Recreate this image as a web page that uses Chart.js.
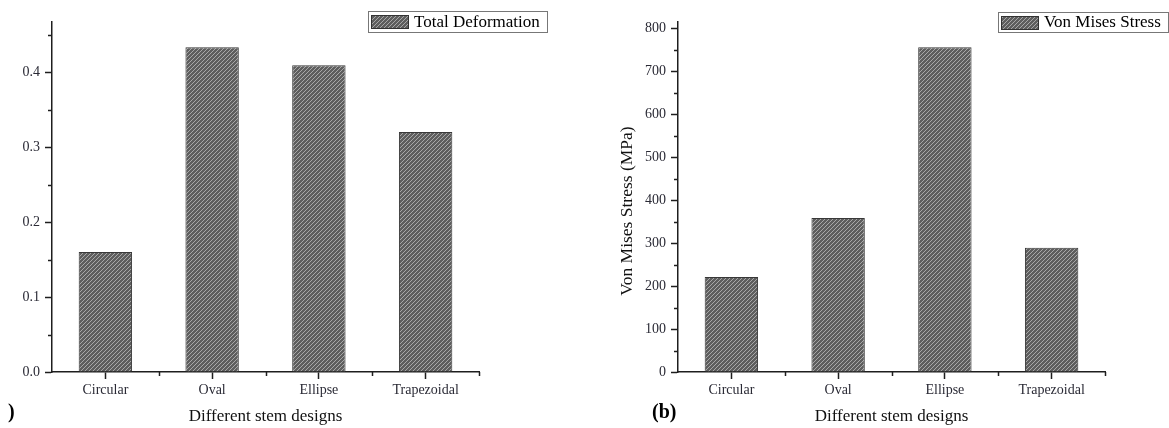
<!DOCTYPE html>
<html><head><meta charset="utf-8">
<script src="https://cdn.jsdelivr.net/npm/chart.js@4"></script>
<style>
html,body{margin:0;padding:0;background:#fff;width:1169px;height:428px;overflow:hidden}
.box{position:absolute;top:0;height:428px}
#wa{left:0;width:584px}
#wb{left:584px;width:585px}
</style></head><body>
<div class="box" id="wa"><canvas id="ca"></canvas></div>
<div class="box" id="wb"><canvas id="cb"></canvas></div>
<script>
const categories = ['Circular', 'Oval', 'Ellipse', 'Trapezoidal'];
const deformation = [0.16, 0.433, 0.409, 0.32];
const stress = [221, 358, 755, 289];
const deformTicks = [0, 0.1, 0.2, 0.3, 0.4];
const stressTicks = [0, 100, 200, 300, 400, 500, 600, 700, 800];
const deformMinor = [0.05, 0.15, 0.25, 0.35, 0.45];
const stressMinor = [50, 150, 250, 350, 450, 550, 650, 750];
const xTitle = 'Different stem designs';

const SERIF = '"Liberation Serif", "Times New Roman", serif';
const AXIS = '#1e1e1e';

function hatch() {
  const c = document.createElement('canvas');
  c.width = 4; c.height = 4;
  const g = c.getContext('2d');
  g.fillStyle = '#5e5e5e';
  g.fillRect(0, 0, 4, 4);
  g.strokeStyle = '#a8a8a8';
  g.lineWidth = 1;
  g.beginPath();
  g.moveTo(0, 4); g.lineTo(4, 0);
  g.moveTo(-1, 1); g.lineTo(1, -1);
  g.moveTo(3, 5); g.lineTo(5, 3);
  g.stroke();
  return g.createPattern(c, 'repeat');
}
const PAT = hatch();

function makeChart(id, cfg) {
  const deco = {
    id: 'deco',
    afterDraw(chart) {
      const ctx = chart.ctx, a = chart.chartArea;
      const ys = chart.scales.y;
      ctx.save();
      ctx.strokeStyle = AXIS;
      ctx.lineWidth = 1.5;
      // minor y ticks
      cfg.minor.forEach(v => {
        const y = Math.round(ys.getPixelForValue(v)) + 0.5;
        ctx.beginPath(); ctx.moveTo(a.left - 4, y); ctx.lineTo(a.left, y); ctx.stroke();
      });
      // boundary x ticks
      const w = (a.right - a.left) / categories.length;
      for (let k = 1; k <= categories.length; k++) {
        const x = Math.round(a.left + k * w) + 0.5;
        ctx.beginPath(); ctx.moveTo(x, a.bottom); ctx.lineTo(x, a.bottom + 4); ctx.stroke();
      }
      // legend
      const L = cfg.legend;
      ctx.lineWidth = 1;
      ctx.strokeStyle = '#777';
      ctx.strokeRect(L.x + 0.5, L.y + 0.5, L.w, L.h);
      ctx.fillStyle = PAT;
      ctx.fillRect(L.x + 3, L.y + 4, 38, 14);
      ctx.strokeStyle = '#333';
      ctx.strokeRect(L.x + 3.5, L.y + 4.5, 37, 13);
      ctx.fillStyle = '#000';
      ctx.font = '17px ' + SERIF;
      ctx.textBaseline = 'middle';
      ctx.textAlign = 'left';
      ctx.fillText(chart.data.datasets[0].label, L.x + 46, L.y + L.h / 2 + 1);
      // y title
      if (cfg.yTitle) {
        ctx.save();
        ctx.translate(cfg.yTitle.x, cfg.yTitle.y);
        ctx.rotate(-Math.PI / 2);
        ctx.textAlign = 'center';
        ctx.textBaseline = 'middle';
        ctx.fillStyle = '#111';
        ctx.font = '17.5px ' + SERIF;
        ctx.fillText(cfg.yTitle.text, 0, 0);
        ctx.restore();
      }
      // panel label
      if (cfg.panel) {
        ctx.fillStyle = '#000';
        ctx.font = 'bold 20px ' + SERIF;
        ctx.textAlign = cfg.panel.align;
        ctx.textBaseline = 'middle';
        ctx.fillText(cfg.panel.text, cfg.panel.x, cfg.panel.y);
      }
      ctx.restore();
    }
  };
  return new Chart(document.getElementById(id), {
    type: 'bar',
    data: {
      labels: categories,
      datasets: [{
        label: cfg.label,
        data: cfg.values,
        backgroundColor: PAT,
        borderColor: '#383838',
        borderWidth: 1,
        barPercentage: 0.5,
        categoryPercentage: 1
      }]
    },
    options: {
      responsive: true,
      maintainAspectRatio: false,
      animation: false,
      devicePixelRatio: 1,
      layout: { padding: { top: 22, right: cfg.rightPad, left: 0, bottom: 0 } },
      plugins: { legend: { display: false }, tooltip: { enabled: false } },
      scales: {
        x: {
          type: 'category',
          offset: true,
          grid: { display: true, drawOnChartArea: false, offset: false, tickLength: 7, tickColor: AXIS, tickWidth: 1.5 },
          border: { display: true, color: AXIS, width: 1.5 },
          ticks: { font: { family: SERIF, size: 14 }, color: '#2a2a35', padding: 3, maxRotation: 0 },
          title: { display: true, text: xTitle, font: { family: SERIF, size: 17 }, color: '#111', padding: { top: 0, bottom: 1 } },
          afterFit: s => { s.height = 56; }
        },
        y: {
          min: 0,
          max: cfg.max,
          afterBuildTicks: s => { s.ticks = cfg.ticks.map(v => ({ value: v })); },
          grid: { display: true, drawOnChartArea: false, tickLength: 7, tickColor: AXIS, tickWidth: 1.5 },
          border: { display: true, color: AXIS, width: 1.5 },
          ticks: { font: { family: SERIF, size: 14 }, color: '#2a2a35', padding: 5, callback: cfg.fmt },
          afterFit: s => { s.width = cfg.yWidth; }
        }
      }
    },
    plugins: [deco]
  });
}

makeChart('ca', {
  label: 'Total Deformation',
  values: deformation,
  ticks: deformTicks,
  minor: deformMinor,
  max: 0.4667,
  fmt: v => Number(v).toFixed(1),
  yWidth: 52,
  rightPad: 105,
  legend: { x: 368, y: 11, w: 179, h: 21 },
  panel: { text: ')', x: 8, y: 413, align: 'left' }
});

makeChart('cb', {
  label: 'Von Mises Stress',
  values: stress,
  ticks: stressTicks,
  minor: stressMinor,
  max: 814,
  fmt: v => String(v),
  yWidth: 94,
  rightPad: 64,
  legend: { x: 414, y: 12, w: 170, h: 20 },
  yTitle: { text: 'Von Mises Stress (MPa)', x: 43, y: 211 },
  panel: { text: '(b)', x: 68, y: 413, align: 'left' }
});
</script>
</body></html>
